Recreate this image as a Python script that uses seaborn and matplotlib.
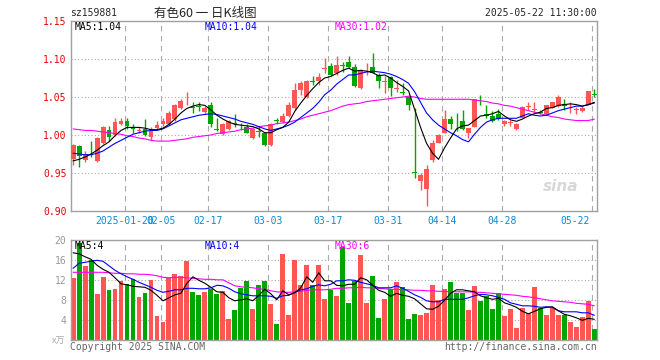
import numpy as np
import matplotlib
matplotlib.use('Agg')
import matplotlib.pyplot as plt
import matplotlib.transforms as mtransforms
import seaborn as sns

# daily candles, 2025-01-07 .. 2025-05-22 (88 trading days)
opens = [0.969, 0.986, 0.967, 0.978, 0.966, 0.990, 1.007, 1.000, 1.014, 1.018,
         1.010, 1.005, 1.008, 0.998, 1.009, 1.014, 1.014, 1.021, 1.035, 1.043,
         1.037, 1.038, 1.030, 1.039, 1.008, 1.001, 1.008, 1.016, 1.011, 1.011,
         0.996, 1.005, 1.002, 0.987, 1.020, 1.017, 1.025, 1.035, 1.059, 1.050,
         1.071, 1.071, 1.087, 1.091, 1.082, 1.092, 1.096, 1.090, 1.062, 1.089,
         1.090, 1.079, 1.070, 1.076, 1.061, 1.056, 1.050, 0.951, 0.940, 0.929,
         0.967, 0.990, 1.003, 1.021, 1.016, 1.018, 1.003, 1.011, 1.044, 1.028,
         1.025, 1.028, 1.014, 1.016, 1.008, 1.023, 1.037, 1.033, 1.030, 1.027,
         1.036, 1.038, 1.041, 1.035, 1.033, 1.031, 1.040, 1.054]
highs = [0.988, 0.987, 0.979, 0.992, 0.998, 1.012, 1.012, 1.022, 1.022, 1.022,
         1.015, 1.010, 1.021, 1.010, 1.018, 1.023, 1.031, 1.041, 1.047, 1.056,
         1.043, 1.044, 1.038, 1.044, 1.022, 1.016, 1.020, 1.027, 1.016, 1.014,
         1.009, 1.012, 1.004, 1.016, 1.022, 1.029, 1.043, 1.069, 1.071, 1.073,
         1.078, 1.082, 1.101, 1.095, 1.104, 1.096, 1.104, 1.093, 1.087, 1.095,
         1.108, 1.082, 1.077, 1.077, 1.073, 1.068, 1.053, 1.035, 0.950, 0.961,
         0.994, 1.001, 1.033, 1.025, 1.029, 1.033, 1.009, 1.048, 1.052, 1.039,
         1.031, 1.034, 1.020, 1.020, 1.016, 1.038, 1.044, 1.043, 1.033, 1.040,
         1.044, 1.052, 1.047, 1.043, 1.037, 1.038, 1.058, 1.060]
lows = [0.960, 0.958, 0.965, 0.971, 0.964, 0.988, 0.992, 0.999, 1.013, 1.008,
        1.003, 1.003, 0.999, 0.993, 1.007, 1.012, 1.013, 1.019, 1.034, 1.040,
        1.029, 1.031, 1.028, 1.011, 1.005, 1.000, 1.007, 1.011, 1.006, 1.002,
        0.995, 0.998, 0.986, 0.986, 1.014, 1.016, 1.024, 1.033, 1.053, 1.049,
        1.066, 1.066, 1.082, 1.077, 1.079, 1.083, 1.088, 1.063, 1.060, 1.079,
        1.081, 1.062, 1.055, 1.051, 1.057, 1.053, 1.033, 0.943, 0.928, 0.906,
        0.965, 0.989, 1.002, 1.008, 1.005, 1.007, 0.996, 1.010, 1.040, 1.022,
        1.017, 1.020, 1.012, 1.012, 1.007, 1.022, 1.033, 1.029, 1.028, 1.026,
        1.035, 1.037, 1.033, 1.029, 1.028, 1.030, 1.040, 1.050]
closes = [0.987, 0.973, 0.975, 0.977, 0.996, 1.010, 0.998, 1.017, 1.018, 1.012,
          1.008, 1.006, 1.000, 1.008, 1.013, 1.018, 1.029, 1.039, 1.045, 1.044,
          1.036, 1.037, 1.036, 1.014, 1.007, 1.014, 1.018, 1.015, 1.010, 1.003,
          1.008, 1.004, 0.987, 1.015, 1.019, 1.025, 1.039, 1.059, 1.068, 1.071,
          1.070, 1.076, 1.088, 1.079, 1.092, 1.091, 1.090, 1.065, 1.085, 1.090,
          1.082, 1.071, 1.071, 1.062, 1.062, 1.055, 1.039, 0.950, 0.947, 0.955,
          0.990, 1.000, 1.021, 1.014, 1.0155, 1.008, 1.009, 1.047, 1.043, 1.025,
          1.018, 1.021, 1.018, 1.017, 1.014, 1.037, 1.038, 1.034, 1.029, 1.039,
          1.043, 1.050, 1.038, 1.036, 1.034, 1.036, 1.058, 1.053]
volumes = [12.5, 19.4, 14.9, 16.1, 9.3, 12.7, 10.1, 10.3, 11.9, 11.3,
           12.3, 8.7, 9.5, 12.1, 4.9, 3.7, 12.5, 13.3, 12.9, 15.9,
           9.7, 9.1, 9.7, 10.3, 9.3, 9.9, 4.3, 6.1, 10.5, 11.9,
           6.3, 11.1, 11.9, 7.3, 3.3, 17.3, 5.1, 16.1, 11.1, 15.1,
           11.1, 15.1, 8.3, 10.1, 8.9, 18.7, 7.5, 11.9, 17.1, 7.5,
           12.9, 4.5, 8.3, 10.2, 11.7, 10.7, 4.3, 5.3, 5.1, 5.5,
           11.1, 8.1, 10.3, 11.7, 9.5, 9.5, 6.1, 10.9, 7.9, 8.9,
           6.3, 9.5, 4.9, 6.3, 2.5, 6.5, 5.4, 10.7, 6.5, 5.1,
           6.5, 5.1, 5.1, 3.7, 2.7, 4.6, 7.9, 2.3]

# moving averages as drawn on the chart
ma5 = [0.966, 0.968, 0.971, 0.975, 0.980, 0.986, 0.991, 0.999, 1.006, 1.010,
       1.010, 1.010, 1.009, 1.007, 1.007, 1.009, 1.014, 1.021, 1.029, 1.035,
       1.038, 1.040, 1.039, 1.033, 1.026, 1.021, 1.017, 1.014, 1.013, 1.012,
       1.011, 1.008, 1.003, 1.003, 1.007, 1.010, 1.017, 1.031, 1.042, 1.052,
       1.061, 1.069, 1.075, 1.077, 1.081, 1.085, 1.088, 1.084, 1.085, 1.084,
       1.082, 1.078, 1.079, 1.075, 1.069, 1.064, 1.058, 1.034, 1.010, 0.989,
       0.976, 0.968, 0.983, 0.996, 1.008, 1.012, 1.013, 1.019, 1.025, 1.026,
       1.028, 1.031, 1.025, 1.020, 1.018, 1.021, 1.025, 1.028, 1.030, 1.035,
       1.036, 1.039, 1.040, 1.041, 1.040, 1.038, 1.040, 1.043]
ma10 = [0.976, 0.975, 0.974, 0.974, 0.976, 0.979, 0.984, 0.989, 0.993, 0.997,
        1.001, 1.003, 1.005, 1.006, 1.006, 1.008, 1.012, 1.016, 1.020, 1.022,
        1.024, 1.026, 1.027, 1.028, 1.027, 1.025, 1.023, 1.021, 1.018, 1.016,
        1.014, 1.011, 1.008, 1.006, 1.008, 1.010, 1.013, 1.017, 1.023, 1.029,
        1.035, 1.043, 1.053, 1.059, 1.067, 1.073, 1.079, 1.079, 1.081, 1.083,
        1.084, 1.083, 1.082, 1.080, 1.077, 1.073, 1.068, 1.057, 1.043, 1.029,
        1.020, 1.013, 1.008, 1.003, 0.999, 0.994, 0.991, 1.001, 1.010, 1.017,
        1.020, 1.022, 1.022, 1.022, 1.022, 1.025, 1.028, 1.026, 1.025, 1.026,
        1.029, 1.032, 1.034, 1.036, 1.038, 1.038, 1.040, 1.042]
ma30 = [1.008, 1.007, 1.006, 1.006, 1.005, 1.004, 1.003, 1.002, 1.001, 0.999,
        0.998, 0.996, 0.995, 0.993, 0.992, 0.992, 0.992, 0.993, 0.994, 0.995,
        0.997, 0.998, 0.999, 1.000, 1.002, 1.003, 1.004, 1.005, 1.007, 1.008,
        1.009, 1.011, 1.012, 1.013, 1.015, 1.016, 1.017, 1.019, 1.021, 1.024,
        1.026, 1.028, 1.030, 1.032, 1.035, 1.038, 1.040, 1.041, 1.042, 1.044,
        1.045, 1.046, 1.047, 1.048, 1.049, 1.050, 1.051, 1.050, 1.048, 1.047,
        1.047, 1.047, 1.047, 1.047, 1.047, 1.047, 1.047, 1.046, 1.045, 1.044,
        1.042, 1.041, 1.039, 1.038, 1.036, 1.034, 1.032, 1.030, 1.028, 1.026,
        1.024, 1.023, 1.021, 1.020, 1.019, 1.019, 1.019, 1.021]
vma5 = [17.5, 17.3, 16.7, 16.2, 15.0, 14.2, 13.6, 12.5, 11.3, 11.1,
        10.8, 10.7, 10.6, 10.0, 9.0, 7.9, 8.5, 9.1, 9.4, 11.4,
        12.7, 12.0, 11.4, 10.6, 9.7, 9.6, 8.5, 7.9, 8.1, 8.3,
        7.9, 9.0, 10.2, 9.3, 8.1, 9.9, 9.1, 9.5, 10.5, 12.7,
        11.6, 13.5, 11.9, 11.9, 11.0, 10.9, 11.2, 11.2, 12.5, 12.1,
        11.0, 10.0, 9.6, 8.8, 9.4, 9.0, 8.8, 8.3, 7.3, 6.3,
        6.2, 6.8, 8.0, 9.4, 10.1, 10.1, 9.9, 9.7, 8.9, 8.5,
        8.2, 8.4, 7.5, 7.1, 6.6, 5.8, 5.3, 5.8, 6.3, 6.6,
        6.7, 5.9, 5.2, 4.9, 4.5, 4.0, 4.4, 4.2]
vma10 = [14.4, 15.4, 15.6, 15.8, 16.0, 15.8, 14.9, 14.0, 13.3, 12.7,
         12.2, 11.6, 11.1, 10.6, 10.0, 9.6, 9.8, 10.1, 10.1, 10.4,
         10.4, 10.3, 10.3, 10.5, 11.0, 10.9, 10.4, 9.7, 9.3, 9.1,
         8.9, 8.9, 8.9, 8.8, 8.4, 8.9, 9.0, 9.6, 10.1, 10.3,
         10.8, 11.1, 10.9, 11.2, 11.9, 11.9, 12.1, 12.0, 11.6, 11.3,
         11.0, 10.5, 10.5, 10.5, 10.9, 10.4, 9.8, 9.1, 8.6, 7.9,
         7.7, 7.7, 8.2, 8.2, 8.2, 8.2, 8.5, 8.9, 9.2, 9.1,
         8.9, 8.6, 8.2, 7.5, 7.2, 6.9, 6.9, 6.8, 6.6, 6.7,
         6.6, 5.9, 5.7, 5.7, 5.7, 5.5, 5.5, 5.0]
vma30 = [13.6, 13.6, 13.6, 13.6, 13.6, 13.6, 13.5, 13.4, 13.4, 13.3,
         13.3, 13.2, 13.2, 13.1, 12.9, 12.6, 12.5, 12.6, 12.6, 12.5,
         12.4, 12.3, 12.2, 12.2, 12.1, 12.1, 11.5, 10.9, 10.7, 10.6,
         10.5, 10.3, 10.2, 9.9, 9.7, 9.6, 9.6, 9.7, 9.8, 10.0,
         10.1, 10.1, 10.1, 10.2, 10.4, 10.4, 10.5, 10.5, 10.6, 10.5,
         10.5, 10.4, 10.3, 10.2, 10.2, 10.1, 10.1, 10.0, 10.0, 9.9,
         9.9, 9.8, 9.8, 9.7, 9.7, 9.7, 9.7, 9.6, 9.6, 9.5,
         9.4, 9.3, 9.2, 9.1, 9.0, 8.8, 8.7, 8.5, 8.3, 8.1,
         7.9, 7.8, 7.7, 7.6, 7.4, 7.3, 7.2, 6.9]

date_idx = [9, 15, 23, 33, 43, 53, 62, 72, 87]
date_lbl = ['2025-01-20', '02-05', '02-17', '03-03', '03-17', '03-31',
            '04-14', '04-28', '05-22']
price_ticks = [0.90, 0.95, 1.00, 1.05, 1.10, 1.15]
vol_ticks = [4, 8, 12, 16, 20]

RED = '#FF5555'
GREEN = '#00A600'
GRID = '#AAAAAA'
MONO = 'DejaVu Sans Mono'
LW = 0.8

sns.set_style('white')
plt.rcParams['font.family'] = [MONO, 'Noto Sans CJK SC']

idx = np.arange(len(closes))
o = np.array(opens); c = np.array(closes)
cols = np.where(c >= o, RED, GREEN)

fig = plt.figure(figsize=(6.6, 3.6), dpi=100)
ax1 = fig.add_axes([70.7 / 660, 1 - 211 / 360, 526.3 / 660, 190 / 360])
ax2 = fig.add_axes([70.7 / 660, 1 - 340.3 / 360, 526.3 / 660, 100 / 360])

for ax in (ax1, ax2):
    ax.set_xlim(-0.4, 87.45)
    for s in ax.spines.values():
        s.set_color('#A0A0A0')
        s.set_linewidth(1.0)
    for d in date_idx:
        ax.axvline(d - 0.4, color=GRID, lw=0.8, ls=(0, (5, 4)), zorder=0)
    ax.tick_params(axis='both', length=0, pad=3, labelsize=7)
    ax.set_xticks([])

# price panel
ax1.set_ylim(0.90, 1.15)
ax1.set_yticks(price_ticks)
ax1.set_yticklabels(['%.2f' % t for t in price_ticks], color='#F00000')
for t in price_ticks[1:-1]:
    ax1.axhline(t, color=GRID, lw=0.8, ls=(0, (1, 2)), zorder=0)

ax1.vlines(idx, lows, highs, colors=cols, lw=1.0, zorder=2)
body = np.maximum(np.abs(c - o), 0.0009)
ax1.bar(idx, body, bottom=np.minimum(o, c), width=0.82, color=cols,
        linewidth=0, zorder=3)

sns.lineplot(x=idx, y=ma30, ax=ax1, color='#FF00FF', lw=LW, zorder=4)
sns.lineplot(x=idx, y=ma10, ax=ax1, color='#0000FF', lw=LW, zorder=4)
sns.lineplot(x=idx, y=ma5, ax=ax1, color='black', lw=LW, zorder=4)
ax1.set_xlabel(''); ax1.set_ylabel('')
ax1.set_xlim(-0.4, 87.45)

tr = mtransforms.blended_transform_factory(ax1.transData, ax1.transAxes)
for d, lbl in zip(date_idx, date_lbl):
    if d == date_idx[-1]:
        ax1.text(d - 0.75, -0.053, lbl, transform=tr, ha='right', va='center',
                 fontsize=7, color='#0A8AD8', family=MONO)
    else:
        ax1.text(d - 0.4, -0.053, lbl, transform=tr, ha='center', va='center',
                 fontsize=7, color='#0A8AD8', family=MONO)

ax1.text(0.008, 0.968, 'MA5:1.04', transform=ax1.transAxes, fontsize=7,
         color='black', va='center', family=MONO)
ax1.text(0.255, 0.968, 'MA10:1.04', transform=ax1.transAxes, fontsize=7,
         color='#0000FF', va='center', family=MONO)
ax1.text(0.501, 0.968, 'MA30:1.02', transform=ax1.transAxes, fontsize=7,
         color='#FF00FF', va='center', family=MONO)
ax1.text(0.965, 0.13, 'sina', transform=ax1.transAxes, fontsize=11,
         color='#D8D8D8', ha='right', va='center', style='italic',
         weight='bold', family='DejaVu Sans')

# volume panel
ax2.set_ylim(0, 20)
ax2.set_yticks(vol_ticks)
ax2.set_yticklabels([str(t) for t in vol_ticks], color='#999999')
for t in vol_ticks[:-1]:
    ax2.axhline(t, color=GRID, lw=0.8, ls=(0, (1, 2)), zorder=0)
ax2.bar(idx, volumes, width=0.82, color=cols, linewidth=0, zorder=2)
sns.lineplot(x=idx, y=vma30, ax=ax2, color='#FF00FF', lw=LW, zorder=4)
sns.lineplot(x=idx, y=vma10, ax=ax2, color='#0000FF', lw=LW, zorder=4)
sns.lineplot(x=idx, y=vma5, ax=ax2, color='black', lw=LW, zorder=4)
ax2.set_xlabel(''); ax2.set_ylabel('')
ax2.set_xlim(-0.4, 87.45)

ax2.text(0.008, 0.94, 'MA5:4', transform=ax2.transAxes, fontsize=7,
         color='black', va='center', family=MONO)
ax2.text(0.255, 0.94, 'MA10:4', transform=ax2.transAxes, fontsize=7,
         color='#0000FF', va='center', family=MONO)
ax2.text(0.501, 0.94, 'MA30:6', transform=ax2.transAxes, fontsize=7,
         color='#FF00FF', va='center', family=MONO)

# header / footer
fig.text(70 / 660, 1 - 13 / 360, 'sz159881', fontsize=7, va='center',
         family=MONO)
fig.text(205 / 660, 1 - 13 / 360, '有色60 一 日K线图', fontsize=9,
         ha='center', va='center', family=['Noto Sans CJK SC', 'DejaVu Sans'])
fig.text(597 / 660, 1 - 13 / 360, '2025-05-22 11:30:00', fontsize=7,
         ha='right', va='center', family=MONO)
fig.text(70 / 660, 1 - 347 / 360, 'Copyright 2025 SINA.COM', fontsize=7,
         color='#666666', va='center', family=MONO)
fig.text(597 / 660, 1 - 347 / 360, 'http://finance.sina.com.cn', fontsize=7,
         color='#666666', ha='right', va='center', family=MONO)
fig.text(65 / 660, 1 - 341 / 360, 'x万', fontsize=6.5, color='#AAAAAA',
         ha='right', va='center', family=['Noto Sans CJK SC', 'DejaVu Sans'])

fig.savefig('out.png', dpi=100, facecolor='white')
